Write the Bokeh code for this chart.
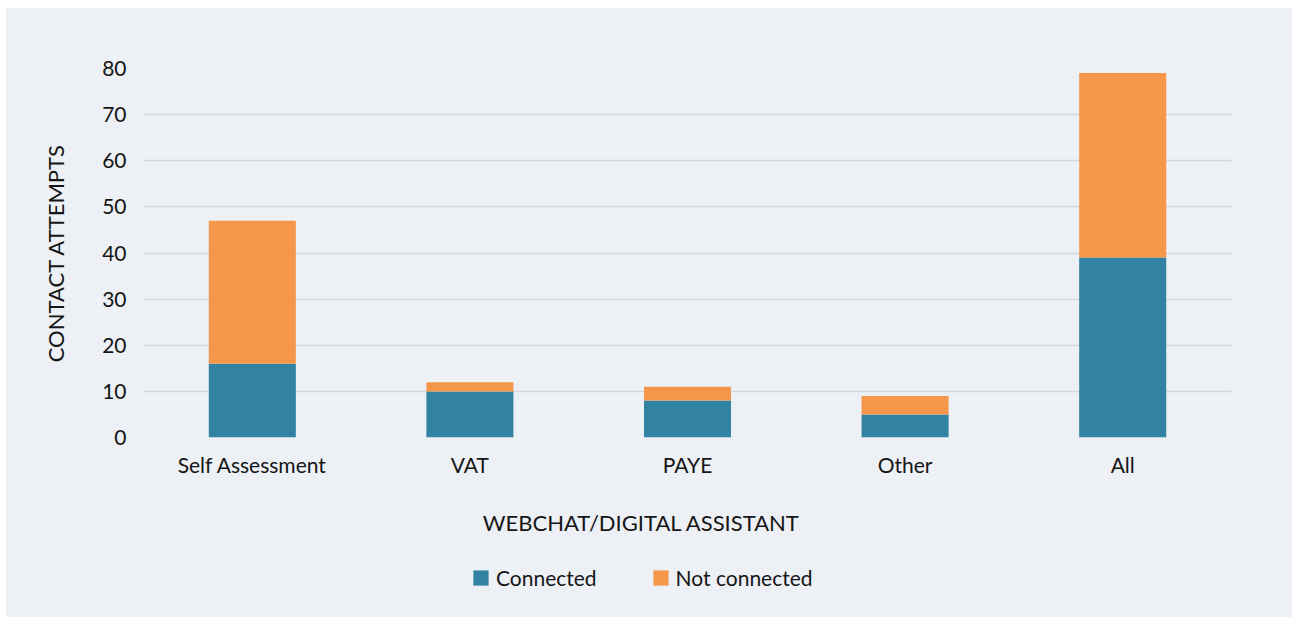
from bokeh.plotting import figure
from bokeh.layouts import column
from bokeh.models import ColumnDataSource, Legend, LegendItem, Label, FixedTicker, FactorRange, Range1d
from bokeh.embed import file_html
from bokeh.resources import INLINE

categories = ["Self Assessment", "VAT", "PAYE", "Other", "All"]
connected = [16, 10, 8, 5, 39]
not_connected = [31, 2, 3, 4, 40]
series = ["connected", "not_connected"]
series_labels = ["Connected", "Not connected"]
colors = ["#3282a4", "#f5974b"]
y_ticks = [0, 10, 20, 30, 40, 50, 60, 70, 80]

BG = "#edf0f5"
FONT = "Lato"
TXT = "#151515"

source = ColumnDataSource(dict(cat=categories, connected=connected, not_connected=not_connected))

p = figure(x_range=FactorRange(*categories, range_padding=0), y_range=Range1d(0, 80),
           width=1286, height=479, output_backend="svg", toolbar_location=None,
           min_border_left=137, min_border_right=61, min_border_top=60, min_border_bottom=50)
p.background_fill_color = None
p.border_fill_color = BG
p.outline_line_color = None

rs = p.vbar_stack(series, x="cat", width=0.4, color=colors, line_color=None, source=source)

p.xgrid.grid_line_color = None
p.ygrid.grid_line_color = "#d5d7db"
p.ygrid.grid_line_width = 1.5
p.yaxis.ticker = FixedTicker(ticks=y_ticks)

for ax in (p.xaxis[0], p.yaxis[0]):
    ax.axis_line_color = None
    ax.major_tick_line_color = None
    ax.minor_tick_line_color = None
    ax.major_tick_out = 0
    ax.major_label_text_font = FONT
    ax.major_label_text_font_size = "21px"
    ax.major_label_text_color = TXT
    ax.axis_label_text_font = FONT
    ax.axis_label_text_font_size = "22px"
    ax.axis_label_text_font_style = "normal"
    ax.axis_label_text_color = TXT

p.yaxis.major_label_standoff = 17
p.yaxis.axis_label = "CONTACT ATTEMPTS"
p.yaxis.axis_label_standoff = 30
p.xaxis.major_label_standoff = 14

# bottom strip: axis title and legend (frame aligned with the chart's frame)
p2 = figure(x_range=Range1d(0, 1), y_range=Range1d(0, 1), width=1286, height=130,
            output_backend="svg", toolbar_location=None, x_axis_location=None, y_axis_location=None,
            min_border=0)
p2.background_fill_color = None
p2.border_fill_color = BG
p2.outline_line_color = None
p2.grid.visible = False

lg_src = ColumnDataSource(dict(x=[float("nan")], top=[float("nan")]))
dummy = [p2.vbar(x="x", top="top", width=0.1, color=c, line_color=None, source=lg_src) for c in colors]

xtitle = Label(x=498, y=95, x_units="screen", y_units="screen", text="WEBCHAT/DIGITAL ASSISTANT",
               text_align="center", text_baseline="middle", text_font=FONT, text_font_size="22px",
               text_color=TXT)
p2.add_layout(xtitle)

legend = Legend(items=[LegendItem(label=series_labels[i], renderers=[dummy[i]]) for i in range(2)],
                orientation="horizontal", location=(328, 27))
legend.glyph_width = 19
legend.glyph_height = 19
legend.label_height = 20
legend.label_standoff = 6
legend.spacing = 54
legend.padding = 0
legend.margin = 0
legend.border_line_color = None
legend.background_fill_alpha = 0
legend.label_text_font = FONT
legend.label_text_font_size = "21px"
legend.label_text_color = TXT
p2.add_layout(legend, "center")

layout = column(p, p2, spacing=0, margin=(8, 0, 0, 6), styles={"background-color": BG})
open("out.html", "w").write(file_html(layout, INLINE))
